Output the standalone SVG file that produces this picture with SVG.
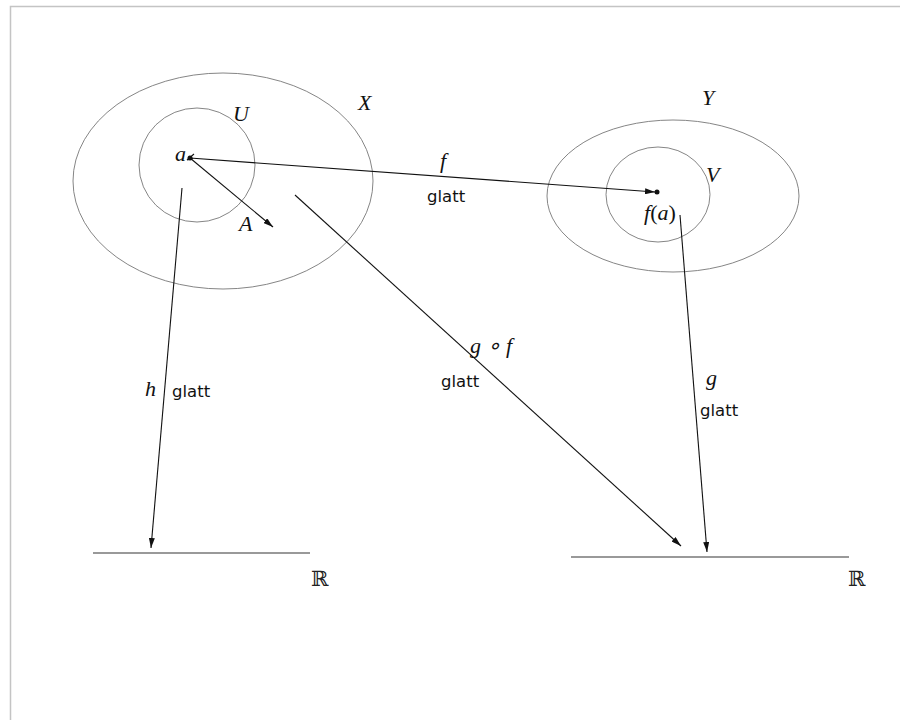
<svg xmlns="http://www.w3.org/2000/svg" width="900" height="720" viewBox="0 0 900 720">
<style>
.curve{fill:none;stroke:#777;stroke-width:0.9}
.arr{fill:none;stroke:#111;stroke-width:1.1}
.base{stroke:#999;stroke-width:2.2}
.m{font-family:"Liberation Serif",serif;font-style:italic;font-size:22px;fill:#111}
.up{font-style:normal}
.r{font-family:"DejaVu Serif","Liberation Serif",serif;font-size:21px;fill:#222}
.t{font-family:"DejaVu Sans","Liberation Sans",sans-serif;font-size:16.5px;fill:#111}
</style>
<defs>
<marker id="ah" viewBox="0 0 10 6" refX="10" refY="3" markerWidth="10" markerHeight="6" markerUnits="userSpaceOnUse" orient="auto">
<path d="M0,0 L10,3 L0,6 Z" fill="#111"/>
</marker>
</defs>
<rect width="900" height="720" fill="#fff"/>
<path d="M10.5,720 V6.5 H900" fill="none" stroke="#c4c4c4" stroke-width="1.5"/>
<g id="X">
<ellipse class="curve" cx="223" cy="181" rx="150" ry="108"/>
<text class="m" x="358" y="110">X</text>
</g>
<g id="U">
<ellipse class="curve" cx="197" cy="165" rx="58" ry="57"/>
<text class="m" x="233" y="121">U</text>
</g>
<g id="a">
<circle cx="190" cy="158" r="2.5" fill="#111"/>
<text class="m" x="175" y="161">a</text>
</g>
<g id="Y">
<ellipse class="curve" cx="673" cy="196" rx="126" ry="76"/>
<text class="m" x="702" y="105">Y</text>
</g>
<g id="V">
<ellipse class="curve" cx="658" cy="194.5" rx="52" ry="47.5"/>
<text class="m" x="706" y="182">V</text>
</g>
<g id="fa">
<circle cx="657" cy="192" r="2.5" fill="#111"/>
<text class="m" x="644" y="220">f<tspan class="up">(</tspan>a<tspan class="up">)</tspan></text>
</g>
<g id="R1">
<line class="base" x1="93" y1="553" x2="310" y2="553"/>
<text class="r" x="311" y="586">ℝ</text>
</g>
<g id="R2">
<line class="base" x1="571" y1="557" x2="849" y2="557"/>
<text class="r" x="848" y="586">ℝ</text>
</g>
<g id="connectors">
<line class="arr" x1="190" y1="158" x2="655" y2="192" marker-end="url(#ah)"/>
<path class="arr" d="M194,154 L187,160 M187,160 L193,158.5"/>
<line class="arr" x1="190" y1="158" x2="273" y2="227" marker-end="url(#ah)"/>
<line class="arr" x1="182" y1="188" x2="151" y2="548" marker-end="url(#ah)"/>
<line class="arr" x1="295" y1="195" x2="681" y2="546" marker-end="url(#ah)"/>
<line class="arr" x1="680" y1="215" x2="707" y2="552" marker-end="url(#ah)"/>
<text class="m" x="239" y="231">A</text>
<text class="m" x="440" y="168">f</text>
<text class="t" x="427" y="202">glatt</text>
<text class="m" x="470" y="353">g ∘ f</text>
<text class="t" x="441" y="387">glatt</text>
<text class="m" x="145" y="396">h</text>
<text class="t" x="172" y="397">glatt</text>
<text class="m" x="706" y="385">g</text>
<text class="t" x="700" y="416">glatt</text>
</g>
</svg>
